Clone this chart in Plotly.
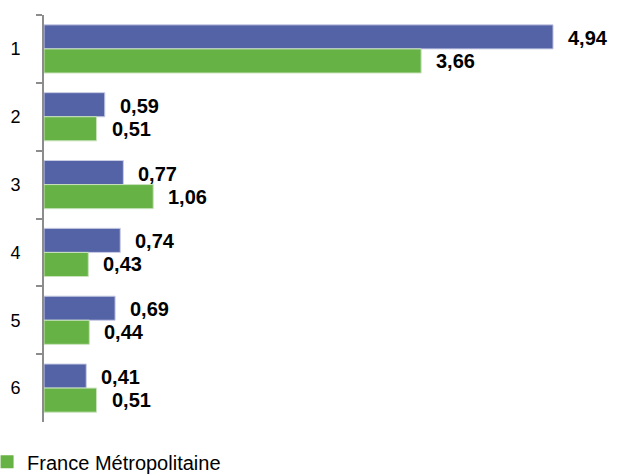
import plotly.graph_objects as go

categories = ["1", "2", "3", "4", "5", "6"]
region = [4.94, 0.59, 0.77, 0.74, 0.69, 0.41]
france = [3.66, 0.51, 1.06, 0.43, 0.44, 0.51]

blue = "#5462A6"
green = "#67B245"
font = "Arial, Liberation Sans, sans-serif"

fig = go.Figure()
fig.add_trace(go.Bar(name="Région", y=categories, x=region, orientation="h",
                     marker=dict(color=blue, line=dict(color="#C8CCE4", width=1)),
                     showlegend=False))
fig.add_trace(go.Bar(name="France Métropolitaine", y=categories, x=france, orientation="h",
                     marker=dict(color=green, line=dict(color="#C9E3BC", width=1)),
                     legendgroup="fr", showlegend=False))
# bigger square legend key than the default bar swatch
fig.add_trace(go.Scatter(name="France Métropolitaine", x=[None], y=[None], mode="markers",
                         marker=dict(symbol="square", size=13, color=green),
                         legendgroup="fr", showlegend=True))

# value labels to the right of each bar (y given as category index)
annots = []
for i, v in enumerate(region):
    annots.append(dict(x=v, y=i, text=f"{v:.2f}".replace(".", ","), showarrow=False,
                       xanchor="left", xshift=13, yshift=11,
                       font=dict(family=font, size=20, color="#000000", weight="bold")))
for i, v in enumerate(france):
    annots.append(dict(x=v, y=i, text=f"{v:.2f}".replace(".", ","), showarrow=False,
                       xanchor="left", xshift=13, yshift=-12,
                       font=dict(family=font, size=20, color="#000000", weight="bold")))

fig.update_layout(
    width=619, height=474, autosize=False,
    margin=dict(l=44, r=0, t=15, b=52, autoexpand=False),
    paper_bgcolor="white", plot_bgcolor="white",
    barmode="group", bargap=0.29, bargroupgap=0,
    annotations=annots,
    font=dict(family=font, color="#000000"),
    legend=dict(orientation="h", x=-0.099, xanchor="left", y=-0.05, yanchor="top",
                font=dict(family=font, size=20, color="#000000")),
)
fig.update_xaxes(range=[0, 5.58], visible=False, showgrid=False)
fig.update_yaxes(range=[5.5, -0.5], automargin=False, showline=True, linecolor="#8C8C8C",
                 linewidth=2, ticks="outside", tickcolor="#8C8C8C", ticklen=6, tickwidth=2,
                 tickson="boundaries", showgrid=False, ticklabelstandoff=18,
                 tickfont=dict(family=font, size=18, color="#000000"))

# drop the default 8px page margin so the figure sits at the window corner
fig.write_html("out.html", config={"displayModeBar": False},
               post_script="document.body.style.margin='0';")
